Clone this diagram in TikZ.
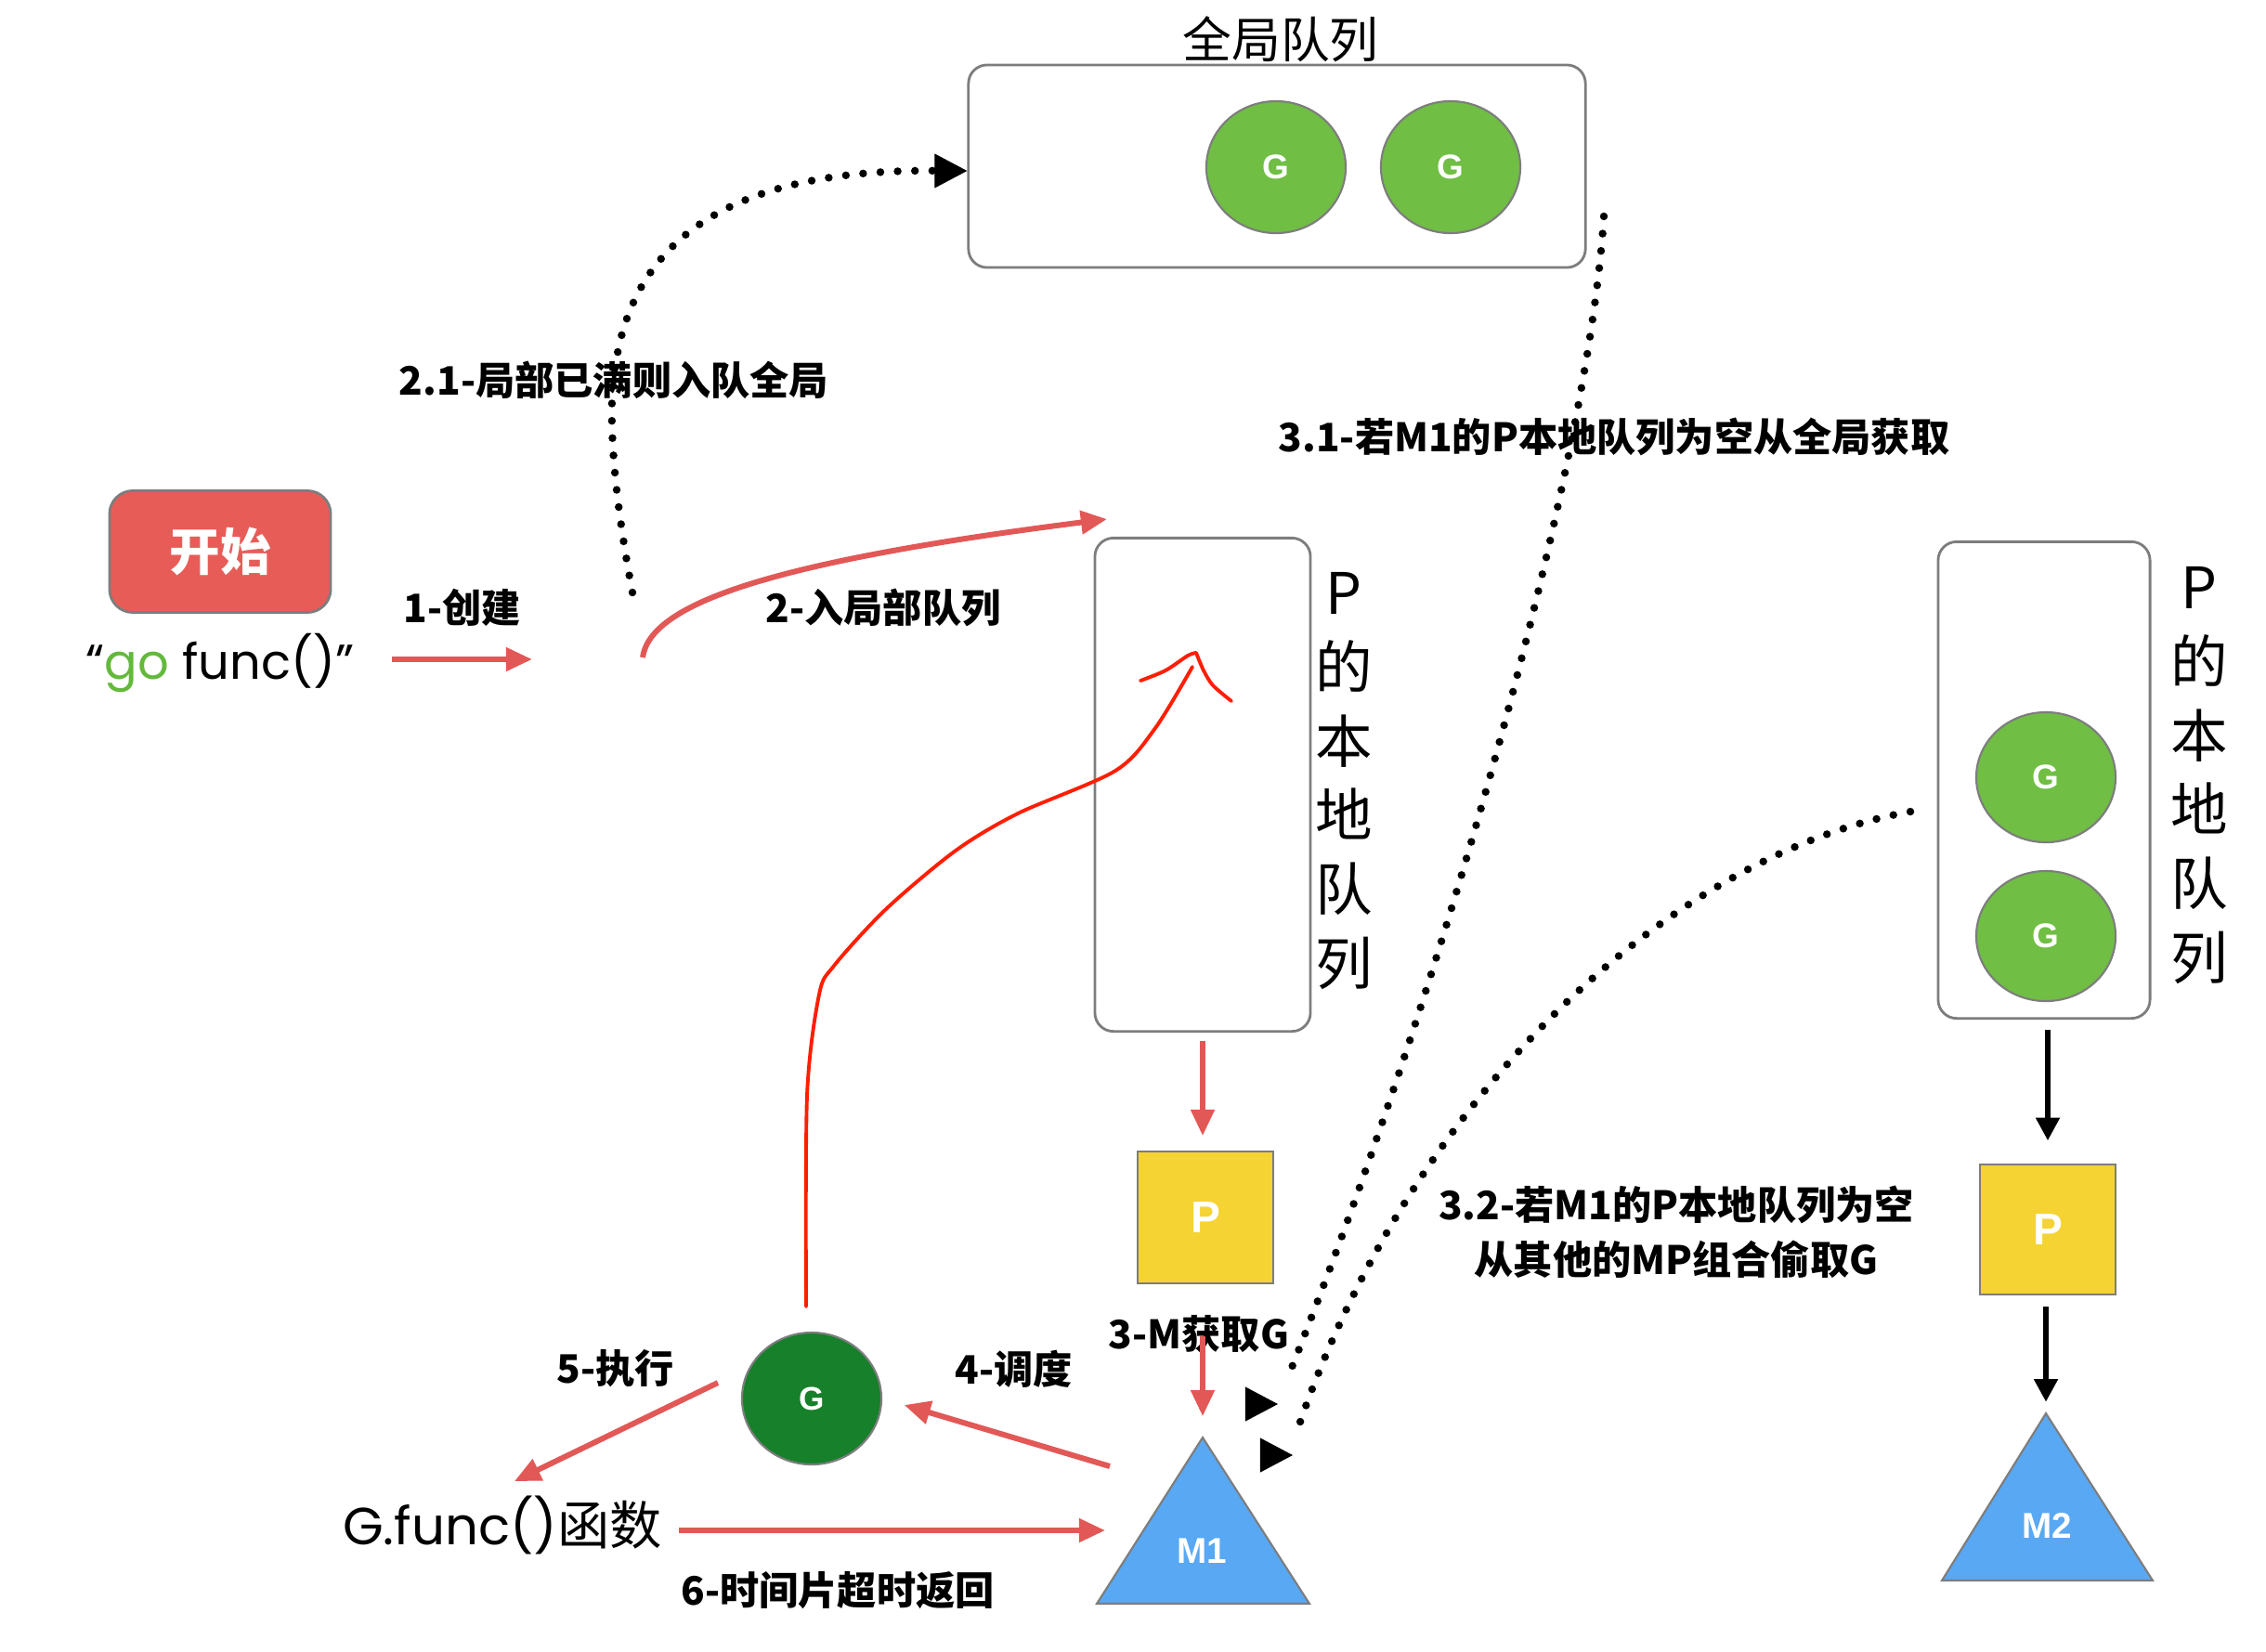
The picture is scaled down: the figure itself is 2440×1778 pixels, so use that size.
\documentclass[tikz,border=0pt]{standalone}
\usepackage{fontspec}
\setmainfont{Liberation Sans}
\newfontfamily\cjk{Noto Sans CJK SC}
\newfontfamily\comic{Poppins}
\usetikzlibrary{arrows.meta,shapes.geometric}
\definecolor{arrred}{RGB}{226,88,86}
\definecolor{startred}{RGB}{232,92,88}
\definecolor{handred}{RGB}{255,30,0}
\definecolor{lgreen}{RGB}{112,190,68}
\definecolor{dgreen}{RGB}{22,128,42}
\definecolor{pyellow}{RGB}{244,211,50}
\definecolor{mblue}{RGB}{88,168,244}
\definecolor{bordergray}{RGB}{125,125,125}
\definecolor{gogreen}{RGB}{100,185,60}
\begin{document}
\begin{tikzpicture}[x=0.01cm,y=-0.01cm,
  queuebox/.style={draw=bordergray, line width=0.8pt, rounded corners=0.2cm, fill=white, inner sep=0pt},
  gnode/.style={ellipse, draw=bordergray, line width=0.6pt, fill=lgreen, minimum width=1.5cm, minimum height=1.42cm, text=white, font=\bfseries\fontsize{10.5}{12}\selectfont, inner sep=0pt},
  pnode/.style={rectangle, draw=bordergray, line width=0.6pt, fill=pyellow, minimum width=1.46cm, minimum height=1.42cm, text=white, font=\bfseries\fontsize{13.6}{15}\selectfont, inner sep=0pt},
  mtri/.style={draw=bordergray, line width=0.6pt, fill=mblue},
  mlabel/.style={text=white, font=\bfseries\fontsize{11}{13}\selectfont, inner sep=0pt},
  lbl/.style={font=\cjk\bfseries\fontsize{12}{14}\selectfont, inner sep=0pt},
  vtext/.style={font=\cjk\fontsize{17.5}{22.7}\selectfont, align=center, inner sep=0pt},
  redarr/.style={draw=arrred, line width=1.7pt, -{Triangle[length=8pt,width=7pt]}},
  blkarr/.style={draw=black, line width=1.7pt, -{Triangle[length=7pt,width=7pt]}},
  dotline/.style={draw=black, line width=2.4pt, line cap=round, dash pattern=on 0pt off 5.3pt},
  dottip/.style={draw=black, line width=0.4pt, -{Triangle[length=10pt,width=10.5pt]}},
  handline/.style={draw=handred, line width=1.1pt, line cap=round, line join=round}
]
\useasboundingbox (0,0) rectangle (2440,1778);
\fill[white] (0,0) rectangle (2440,1778);

% global queue
\node[queuebox, minimum width=6.64cm, minimum height=2.18cm] (gq) at (1375,179) {};
\node[font=\cjk\fontsize{15}{18}\selectfont, inner sep=0pt] (gqt) at (1379,42) {全局队列};
\node[gnode] (gg1) at (1374,180) {G};
\node[gnode] (gg2) at (1562,180) {G};

% start
\node[draw=bordergray, line width=0.8pt, fill=startred, rounded corners=0.25cm, minimum width=2.38cm, minimum height=1.31cm, text=white, font=\cjk\bfseries\fontsize{15.5}{18}\selectfont] (start) at (237,594) {开始};
\node[font=\comic\fontsize{15}{18}\selectfont, inner sep=0pt] (go) at (237,714) {“\textcolor{gogreen}{go} func()”};

% middle local queue
\node[queuebox, minimum width=2.32cm, minimum height=5.31cm] (pq1) at (1295,845) {};
\node[vtext] (vt1) at (1447,841) {P\\的\\本\\地\\队\\列};
\node[pnode] (p1) at (1298,1311) {P};
\coordinate (m1top) at (1295,1548);
\draw[mtri] (m1top) -- (1410,1727) -- (1181,1727) -- cycle;
\node[mlabel] (m1) at (1294,1670) {M1};

% right local queue
\node[queuebox, minimum width=2.28cm, minimum height=5.13cm] (pq2) at (2201,840) {};
\node[gnode, minimum height=1.40cm] (rg1) at (2203,837) {G};
\node[gnode, minimum height=1.40cm] (rg2) at (2203,1008) {G};
\node[vtext] (vt2) at (2368,835) {P\\的\\本\\地\\队\\列};
\node[pnode, minimum height=1.40cm] (p2) at (2205,1324) {P};
\coordinate (m2top) at (2203,1522);
\draw[mtri] (m2top) -- (2318,1702) -- (2091,1702) -- cycle;
\node[mlabel] (m2) at (2204,1643) {M2};

% running G and function
\node[gnode, fill=dgreen, font=\bfseries\fontsize{10}{12}\selectfont] (g0) at (874,1506) {G};
\node[inner sep=0pt] (gf) at (541,1642) {\comic\fontsize{16}{19}\selectfont G.func()\cjk 函数};

% labels
\node[lbl] (l1) at (498,654) {1-创建};
\node[lbl] (l2) at (951,654) {2-入局部队列};
\node[lbl] (l21) at (661,409) {2.1-局部已满则入队全局};
\node[lbl] (l31) at (1738,470) {3.1-若M1的P本地队列为空从全局获取};
\node[lbl, align=center, font=\cjk\bfseries\fontsize{12}{16.7}\selectfont] (l32) at (1805,1327) {3.2-若M1的P本地队列为空\\从其他的MP组合偷取G};
\node[lbl] (l3) at (1291,1436) {3-M获取G};
\node[lbl] (l4) at (1092,1474) {4-调度};
\node[lbl] (l5) at (663,1474) {5-执行};
\node[lbl] (l6) at (902,1713) {6-时间片超时返回};

% red arrows
\coordinate (a1s) at (422,710);
\coordinate (a1e) at (573,710);
\draw[redarr] (a1s) -- (a1e);
\coordinate (a2s) at (692,708);
\coordinate (a2e) at (1192,559);
\draw[redarr] (a2s) .. controls (700,650) and (830,605) .. (a2e);
\draw[redarr, shorten <=2.5pt, shorten >=4.5pt] (pq1.south) -- (pq1.south |- p1.north);
\draw[redarr, shorten <=16pt, shorten >=6.5pt] (p1.south -| m1top) -- (m1top);
\coordinate (a4s) at (1195,1579);
\draw[redarr, shorten >=7pt] (a4s) -- (g0.east);
\coordinate (a5s) at (773,1489);
\coordinate (a5e) at (554,1595);
\draw[redarr] (a5s) -- (a5e);
\coordinate (a6s) at (731,1648);
\coordinate (a6e) at (1190,1648);
\draw[redarr] (a6s) -- (a6e);

% black arrows (right)
\draw[blkarr, shorten <=3pt, shorten >=7pt] (pq2.south -| p2.north) -- (p2.north);
\draw[blkarr, shorten <=3.5pt, shorten >=3.5pt] (p2.south -| m2top) -- (m2top);

% dotted arrows
\coordinate (s21) at (681,638);
\draw[dotline] (s21) .. controls (655,500) and (655,420) .. (665,380) .. controls (690,250) and (800,180) .. (1016,184);
\draw[dottip] (1008,184) -- (gq.west |- 0,184);
\coordinate (s31) at (1727,233);
\coordinate (e31) at (1388,1480);
\draw[dotline] (s31) .. controls (1710,500) and (1560,1050) .. (e31);
\coordinate (t31) at (1376,1512);
\draw[dottip] (1341,1512) -- (t31);
\coordinate (s32) at (2057,874);
\coordinate (e32) at (1398,1537);
\draw[dotline] (s32) .. controls (1800,920) and (1520,1180) .. (e32);
\coordinate (t32) at (1392,1567);
\draw[dottip] (1357,1567) -- (t32);

% hand-drawn red stroke
\coordinate (hs) at (868,1407);
\draw[handline] plot[smooth, tension=0.5] coordinates {(hs) (869,1180) (882,1071) (898,1040) (954,979) (1029,916) (1096,876) (1201,830) (1244,784) (1284,718)};
\draw[handline] plot[smooth, tension=0.5] coordinates {(1228,733) (1255,722) (1279,706) (1288,703)};
\draw[handline] plot[smooth, tension=0.5] coordinates {(1288,703) (1296,722) (1306,738) (1326,755)};
\end{tikzpicture}
\end{document}
